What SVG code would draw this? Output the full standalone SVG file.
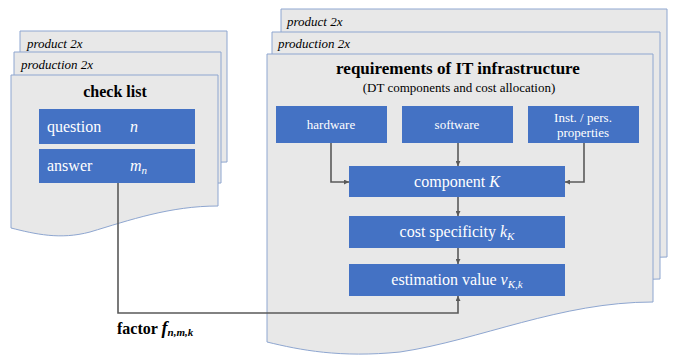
<svg xmlns="http://www.w3.org/2000/svg" width="673" height="356" viewBox="0 0 673 356">
<defs>
<style>
.sheet{fill:#E8E8E8;stroke:#8EA6D0;stroke-width:1}
.box{fill:#4472C4}
text{font-family:'Liberation Serif','DejaVu Serif',serif}
.t{fill:#000}
.w{fill:#fff}
.lbl{font-style:italic;font-size:13px;fill:#000}
.conn{fill:none;stroke:#595959;stroke-width:1.6}
</style>
<marker id="ah" viewBox="0 0 10 10" refX="10" refY="5" markerWidth="5" markerHeight="5" orient="auto" markerUnits="userSpaceOnUse">
<path d="M0,0 L10,5 L0,10 Z" fill="#595959"/>
</marker>
</defs>
<rect width="673" height="356" fill="#fff"/>

<g id="left-product">
<path class="sheet" d="M20,31 H227 V162 C179,162 139,176 99,188 C69,196 44,190 20,184 Z"/>
<text class="lbl" x="27" y="48">product 2x</text>
</g>
<g id="left-production">
<path class="sheet" d="M14,52 H221 V183 C173,183 133,197 93,209 C63,217 38,211 14,205 Z"/>
<text class="lbl" x="21" y="69">production 2x</text>
</g>
<g id="checklist">
<path class="sheet" d="M11,75 H218 V206 C170,206 130,220 90,232 C60,240 35,234 11,228 Z"/>
<text class="t" x="115" y="97" font-size="16" font-weight="bold" text-anchor="middle">check list</text>
</g>
<g id="question">
<rect class="box" x="39" y="109" width="156" height="35"/>
<text class="w" x="47" y="132" font-size="16">question</text>
<text class="w" x="130" y="132" font-size="16" font-style="italic">n</text>
</g>
<g id="answer">
<rect class="box" x="39" y="149" width="156" height="34"/>
<text class="w" x="47" y="171" font-size="16">answer</text>
<text class="w" x="130" y="171" font-size="16" font-style="italic">m<tspan font-size="11" dy="3">n</tspan></text>
</g>

<g id="right-product">
<path class="sheet" d="M281,9 H667 V257 C574,257 494,295 414,307 C354,313 314,305 281,297 Z"/>
<text class="lbl" x="287" y="26">product 2x</text>
</g>
<g id="right-production">
<path class="sheet" d="M272,32 H660 V279 C567,279 487,317 407,329 C347,335 307,327 272,319 Z"/>
<text class="lbl" x="278" y="48">production 2x</text>
</g>
<g id="requirements">
<path class="sheet" d="M267,54 H653 V302 C560,302 480,340 400,352 C340,358 300,350 267,342 Z"/>
<text class="t" x="458" y="74" font-size="17" font-weight="bold" text-anchor="middle">requirements  of IT infrastructure</text>
<text class="t" x="459" y="92" font-size="13" text-anchor="middle">(DT components and cost allocation)</text>
</g>
<g id="hardware">
<rect class="box" x="276" y="106" width="111" height="37"/>
<text class="w" x="331" y="129" font-size="13" text-anchor="middle">hardware</text>
</g>
<g id="software">
<rect class="box" x="402" y="106" width="111" height="37"/>
<text class="w" x="457" y="129" font-size="13" text-anchor="middle">software</text>
</g>
<g id="inst">
<rect class="box" x="528" y="106" width="111" height="37"/>
<text class="w" x="583" y="122" font-size="13" text-anchor="middle">Inst. / pers.</text>
<text class="w" x="583" y="137" font-size="13" text-anchor="middle">properties</text>
</g>
<g id="component">
<rect class="box" x="349" y="166" width="216" height="31"/>
<text class="w" x="457" y="187" font-size="16" text-anchor="middle">component  <tspan font-style="italic">K</tspan></text>
</g>
<g id="cost">
<rect class="box" x="349" y="216" width="216" height="32"/>
<text class="w" x="457" y="237" font-size="16" text-anchor="middle">cost specificity <tspan font-style="italic">k<tspan font-size="11" dy="3">K</tspan></tspan></text>
</g>
<g id="estimation">
<rect class="box" x="349" y="264" width="216" height="32"/>
<text class="w" x="457" y="285" font-size="16" text-anchor="middle">estimation value  <tspan font-style="italic">v<tspan font-size="11" dy="3">K,k</tspan></tspan></text>
</g>

<g id="connectors">
<path class="conn" d="M331,143 V182 H349" marker-end="url(#ah)"/>
<path class="conn" d="M458,143 V166" marker-end="url(#ah)"/>
<path class="conn" d="M584,143 V182 H565" marker-end="url(#ah)"/>
<path class="conn" d="M458,197 V216" marker-end="url(#ah)"/>
<path class="conn" d="M458,248 V264" marker-end="url(#ah)"/>
<path class="conn" d="M118,183 V313 H458 V296" marker-end="url(#ah)"/>
</g>
<g id="factor-label">
<text class="t" x="117" y="334" font-size="16" font-weight="bold">factor <tspan font-style="italic" font-size="18">f</tspan><tspan font-style="italic" font-size="11" dy="2">n,m,k</tspan></text>
</g>
</svg>
